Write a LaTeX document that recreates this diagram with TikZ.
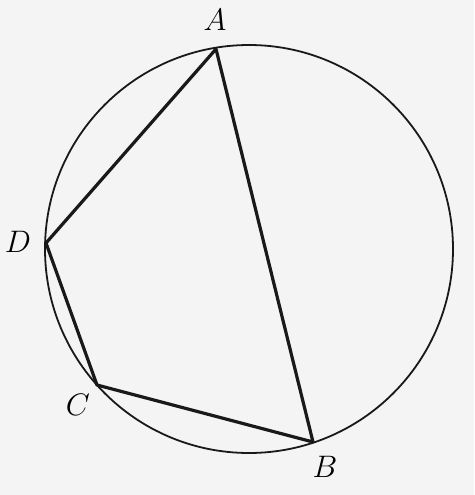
\documentclass[tikz,border=0pt]{standalone}
\begin{document}
\begin{tikzpicture}[x=1pt,y=-1pt,
  lbl/.style={font=\Huge, scale=1.25, inner sep=0pt},
  rim/.style={line width=1.8pt, draw=black!90},
  side/.style={line width=3.2pt, line join=round, draw=black!90}]
\fill[fill={rgb,255:red,244;green,244;blue,244}] (0,0) rectangle (474,495);
\useasboundingbox (0,0) rectangle (474,495);
\coordinate (O) at (249,249);
\coordinate (A) at (216,49);
\coordinate (B) at (313,442);
\coordinate (C) at (97,385);
\coordinate (D) at (46,243);
\draw[rim] (O) circle[radius=204];
\draw[side] (A) -- (B) -- (C) -- (D) -- cycle;
\node[lbl] (la) at (215,20) {$A$};
\node[lbl] (lb) at (325,467) {$B$};
\node[lbl] (lc) at (78,405) {$C$};
\node[lbl] (ld) at (18,242) {$D$};
\end{tikzpicture}
\end{document}
